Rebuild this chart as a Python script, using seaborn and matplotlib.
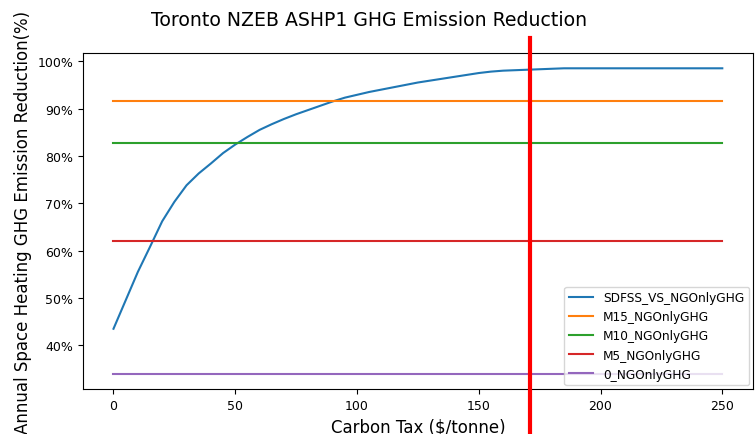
import numpy as np
import pandas as pd
import matplotlib
matplotlib.use("Agg")
import matplotlib.pyplot as plt
from matplotlib.ticker import PercentFormatter
import seaborn as sns

# ---- data ----
carbon_tax = list(range(0, 251, 5))
sdfss_vs_ng = [43.5, 49.5, 55.5, 60.8, 66.2, 70.3, 73.8, 76.3, 78.4, 80.6,
               82.4, 84.0, 85.5, 86.7, 87.8, 88.8, 89.7, 90.6, 91.5, 92.3,
               92.9, 93.5, 94.0, 94.5, 95.0, 95.5, 95.9, 96.3, 96.7, 97.1,
               97.5, 97.8, 98.0, 98.1, 98.2, 98.3, 98.4, 98.5, 98.5, 98.5,
               98.5, 98.5, 98.5, 98.5, 98.5, 98.5, 98.5, 98.5, 98.5, 98.5,
               98.5]
m15_value = 91.7
m10_value = 82.8
m5_value = 62.1
zero_value = 34.0
series_names = ["SDFSS_VS_NGOnlyGHG", "M15_NGOnlyGHG", "M10_NGOnlyGHG",
                "M5_NGOnlyGHG", "0_NGOnlyGHG"]
marker_tax = 171

series_values = [
    [v / 100 for v in sdfss_vs_ng],
    [m15_value / 100] * len(carbon_tax),
    [m10_value / 100] * len(carbon_tax),
    [m5_value / 100] * len(carbon_tax),
    [zero_value / 100] * len(carbon_tax),
]

colors = sns.color_palette("tab10", 5)

fig = plt.figure(figsize=(7.55, 4.35), dpi=100)
ax = fig.add_axes([0.110, 0.1034, 0.887, 0.7724])

for name, vals, c in zip(series_names, series_values, colors):
    df = pd.DataFrame({"x": carbon_tax, "y": vals})
    sns.lineplot(data=df, x="x", y="y", ax=ax, color=c, label=name, linewidth=1.5)

ax.yaxis.set_major_formatter(PercentFormatter(1.0, decimals=0))
ax.set_xticks([0, 50, 100, 150, 200, 250])
ax.tick_params(labelsize=9)
ax.set_xlabel("Carbon Tax ($/tonne)", fontsize=12)
ax.set_ylabel("Annual Space Heating GHG Emission Reduction(%)", fontsize=12,
              labelpad=4)
ax.set_title("Toronto NZEB ASHP1 GHG Emission Reduction", fontsize=13.6,
             pad=20, x=0.427)
ax.legend(loc="lower right", fontsize=8.7, borderaxespad=0.3)

ax.axvline(marker_tax, ymin=-0.14, ymax=1.045, color="red", linewidth=3,
           clip_on=False, zorder=5)

fig.savefig("out.png", dpi=100)
